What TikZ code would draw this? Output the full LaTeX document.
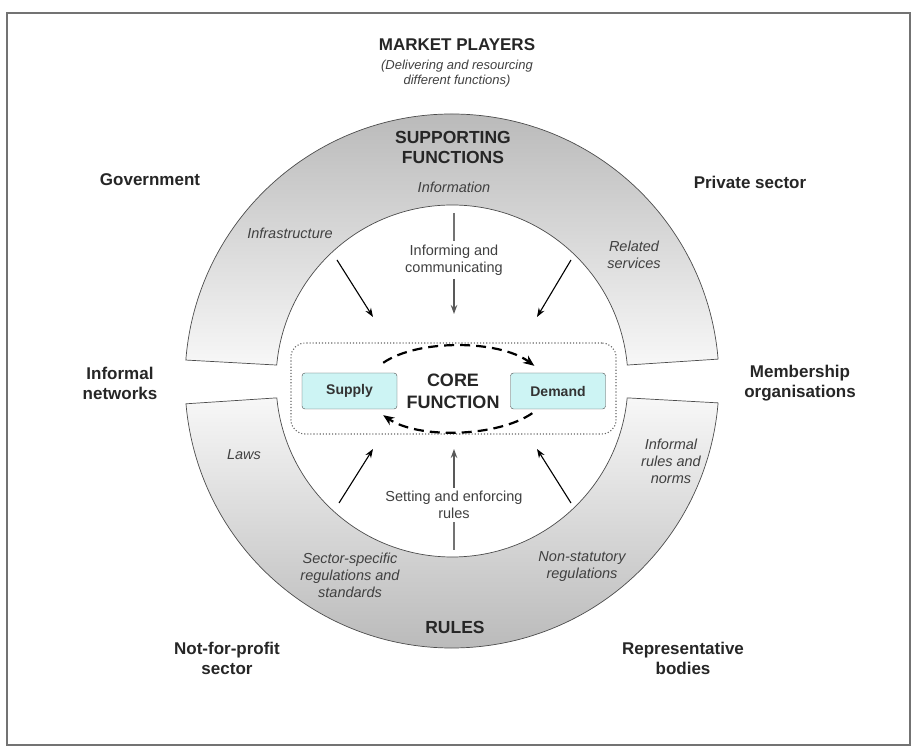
\documentclass[tikz,border=0pt]{standalone}
\usepackage{fontspec}
\setmainfont{Liberation Sans}
\usetikzlibrary{arrows.meta}
\definecolor{boxfill}{RGB}{205,244,244}

\begin{document}
\begin{tikzpicture}[x=1pt, y=1pt,
    player/.style={font=\fontsize{17}{20}\selectfont\bfseries, align=center, text=black!85},
    heading/.style={font=\fontsize{17.5}{20}\selectfont\bfseries, align=center, text=black!85},
    note/.style={font=\fontsize{14.5}{17}\selectfont\itshape, align=center, text=black!75},
    task/.style={font=\fontsize{14.5}{17}\selectfont, align=center, text=black!75},
    side/.style={draw=black!70, rounded corners=3pt, fill=boxfill, minimum width=95pt, minimum height=36pt,
        font=\fontsize{14}{16}\selectfont\bfseries, text=black!80},
    ringline/.style={draw=black!70, line width=0.7pt},
    push/.style={-{Stealth[length=9pt,width=6.5pt]}, line width=1.1pt},
    flow/.style={-{Stealth[length=11pt,width=9pt]}, line width=2.2pt, dash pattern=on 10pt off 6pt}]

    \useasboundingbox (0,0) rectangle (913,755);
    % Frame
    \draw[black!55, line width=1.4pt] (7,10) rectangle (910,742);

    % Ring: supporting functions (top), rules (bottom)
    \def\Rout{267pt}
    \def\Rin{176pt}
    \begin{scope}[shift={(452,374)}]
        \draw[ringline, top color=black!28, bottom color=black!3]
            (175.5:\Rout) arc[start angle=175.5, end angle=4.7, radius=\Rout]
            -- (5.2:\Rin) arc[start angle=5.2, end angle=174.8, radius=\Rin] -- cycle;
        \draw[ringline, top color=black!3, bottom color=black!28]
            (184.9:\Rout) arc[start angle=184.9, end angle=355.3, radius=\Rout]
            -- (354.5:\Rin) arc[start angle=354.5, end angle=185.5, radius=\Rin] -- cycle;
    \end{scope}

    % Market players
    \node[player] (market) at (457,710) {MARKET PLAYERS};
    \node[note, font=\fontsize{13}{15}\selectfont\itshape] (deliver) at (457,681) {(Delivering and resourcing\\different functions)};
    \foreach \x/\y/\name/\txt in {150/575/gov/Government, 750/573/private/{Private sector},
        120/372/informal/{Informal\\networks}, 800/372/member/{Membership\\organisations},
        227/97/nonprofit/{Not-for-profit\\sector}, 683/97/repr/{Representative\\bodies}} {
        \node[player] (\name) at (\x,\y) {\txt};
    }

    % Headings in the ring
    \node[heading] (supfun) at (453,608) {SUPPORTING\\FUNCTIONS};
    \node[heading] (rules) at (455,128) {RULES};

    % Functions (italic)
    \node[note] (info) at (454,568) {Information};
    \node[note] (infra) at (290,522) {Infrastructure};
    \node[note] (related) at (634,500) {Related\\services};
    \node[note] (laws) at (244,300) {Laws};
    \node[note] (norms) at (671,294) {Informal\\rules and\\norms};
    \node[note] (sector) at (350,180) {Sector-specific\\regulations and\\standards};
    \node[note] (nonstat) at (582,188.5) {Non-statutory\\regulations};

    % Core function
    \node[draw=black!60, dotted, line width=1.1pt, rounded corners=14pt,
        minimum width=325pt, minimum height=91pt] (corebox) at (453.5,366.5) {};
    \node[side] (supply) at (349.5,364) {Supply};
    \node[side] (demand) at (558,364) {Demand};
    \node[heading, font=\fontsize{18}{22}\selectfont\bfseries] (core) at (453,364) {CORE\\FUNCTION};
    \draw[flow] ([shift={(-14,10)}]supply.north east) .. controls +(35,24) and +(-35,26) .. ([shift={(24,7)}]demand.north west);
    \draw[flow] ([shift={(22,-4)}]demand.south west) .. controls +(-35,-24) and +(35,-24) .. ([shift={(-14,-6)}]supply.south east);

    % Informing and communicating
    \node[task] (inform) at (454,495) {Informing and\\communicating};
    \coordinate (inform-top) at (454,542);
    \coordinate (inform-tip) at (454,441);
    \coordinate (tl-from) at (337,495);
    \coordinate (tl-tip) at (373,438);
    \coordinate (tr-from) at (571,495);
    \coordinate (tr-tip) at (537,438);
    \draw[black!55, line width=1.1pt] (inform-top) -- (inform.north);
    \draw[push, black!65] (inform.south) -- (inform-tip);
    \draw[push] (tl-from) -- (tl-tip);
    \draw[push] (tr-from) -- (tr-tip);

    % Setting and enforcing rules
    \node[task] (setting) at (454,250) {Setting and enforcing\\rules};
    \coordinate (setting-base) at (454,205);
    \coordinate (setting-tip) at (454,306);
    \coordinate (bl-from) at (339,252);
    \coordinate (bl-tip) at (373,306);
    \coordinate (br-from) at (571,252);
    \coordinate (br-tip) at (537,306);
    \draw[black!55, line width=1.1pt] (setting.south) -- (setting-base);
    \draw[push, black!65] (setting.north) -- (setting-tip);
    \draw[push] (bl-from) -- (bl-tip);
    \draw[push] (br-from) -- (br-tip);
\end{tikzpicture}
\end{document}
